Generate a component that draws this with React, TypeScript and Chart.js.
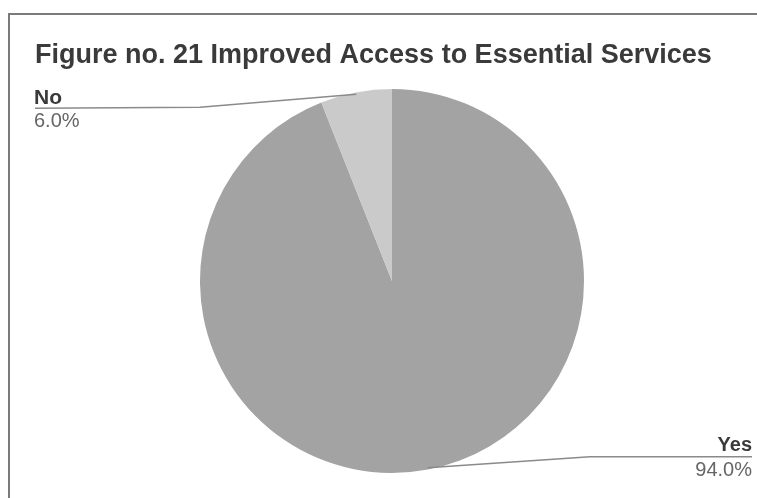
import React, { useEffect, useRef } from "react";
import { Chart, registerables } from "chart.js";

Chart.register(...registerables);

const titleText = "Figure no. 21 Improved Access to Essential Services";
const categories = ["Yes", "No"];
const shares = [94.0, 6.0];
const sliceColors = ["#a3a3a3", "#cacaca"];

const FONT = "'Liberation Sans', Arial, sans-serif";

// Frame, title, and callout labels with leader lines
const decorPlugin = {
  id: "decor",
  afterDraw(chart: any) {
    const ctx = chart.ctx as CanvasRenderingContext2D;
    const W = chart.width;
    ctx.save();

    // frame lines (top and left)
    ctx.strokeStyle = "#7a7a7a";
    ctx.lineWidth = 2;
    ctx.beginPath();
    ctx.moveTo(9, 498);
    ctx.lineTo(9, 14);
    ctx.lineTo(W, 14);
    ctx.stroke();

    // title
    ctx.fillStyle = "#3a3a3a";
    ctx.font = `bold 27px ${FONT}`;
    ctx.textBaseline = "alphabetic";
    ctx.textAlign = "left";
    ctx.fillText(titleText, 35, 63);

    const meta = chart.getDatasetMeta(0);
    meta.data.forEach((arc: any, i: number) => {
      const { x, y, startAngle, endAngle, outerRadius } = arc.getProps(
        ["x", "y", "startAngle", "endAngle", "outerRadius"],
        true
      );
      const mid = (startAngle + endAngle) / 2;
      const px = x + Math.cos(mid) * outerRadius * 0.99;
      const py = y + Math.sin(mid) * outerRadius * 0.99;
      const right = Math.cos(mid) > 0;
      const value = shares[i].toFixed(1) + "%";

      ctx.strokeStyle = "#8a8a8a";
      ctx.lineWidth = 1.5;
      ctx.beginPath();
      if (right) {
        const lineY = py - 11;
        ctx.moveTo(px, py);
        ctx.lineTo(590, lineY);
        ctx.lineTo(752, lineY);
        ctx.stroke();
        ctx.textAlign = "right";
        ctx.fillStyle = "#3a3a3a";
        ctx.font = `bold 20px ${FONT}`;
        ctx.fillText(categories[i], 752, lineY - 6);
        ctx.fillStyle = "#666666";
        ctx.font = `20px ${FONT}`;
        ctx.fillText(value, 752, lineY + 19);
      } else {
        const lineY = py + 14;
        ctx.moveTo(px, py);
        ctx.lineTo(200, lineY - 1);
        ctx.lineTo(35, lineY);
        ctx.stroke();
        ctx.textAlign = "left";
        ctx.fillStyle = "#3a3a3a";
        ctx.font = `bold 21px ${FONT}`;
        ctx.fillText(categories[i], 34, lineY - 4);
        ctx.fillStyle = "#666666";
        ctx.font = `20px ${FONT}`;
        ctx.fillText(value, 34, lineY + 19);
      }
    });
    ctx.restore();
  },
};

export default function App() {
  const ref = useRef<HTMLCanvasElement | null>(null);

  useEffect(() => {
    if (!ref.current) return;
    const chart = new Chart(ref.current, {
      type: "pie",
      data: {
        labels: categories,
        datasets: [
          {
            data: shares,
            backgroundColor: sliceColors,
            borderWidth: 0,
          },
        ],
      },
      options: {
        animation: false,
        responsive: false,
        maintainAspectRatio: false,
        layout: { padding: { top: 89, bottom: 25, left: 200, right: 173 } },
        plugins: {
          legend: { display: false },
          tooltip: { enabled: false },
          title: { display: false },
        },
      },
      plugins: [decorPlugin],
    });
    return () => chart.destroy();
  }, []);

  return (
    <div style={{ position: "fixed", left: 0, top: 0, width: 757, height: 498, background: "#fff" }}>
      <canvas ref={ref} width={757} height={498} style={{ display: "block" }} />
    </div>
  );
}
